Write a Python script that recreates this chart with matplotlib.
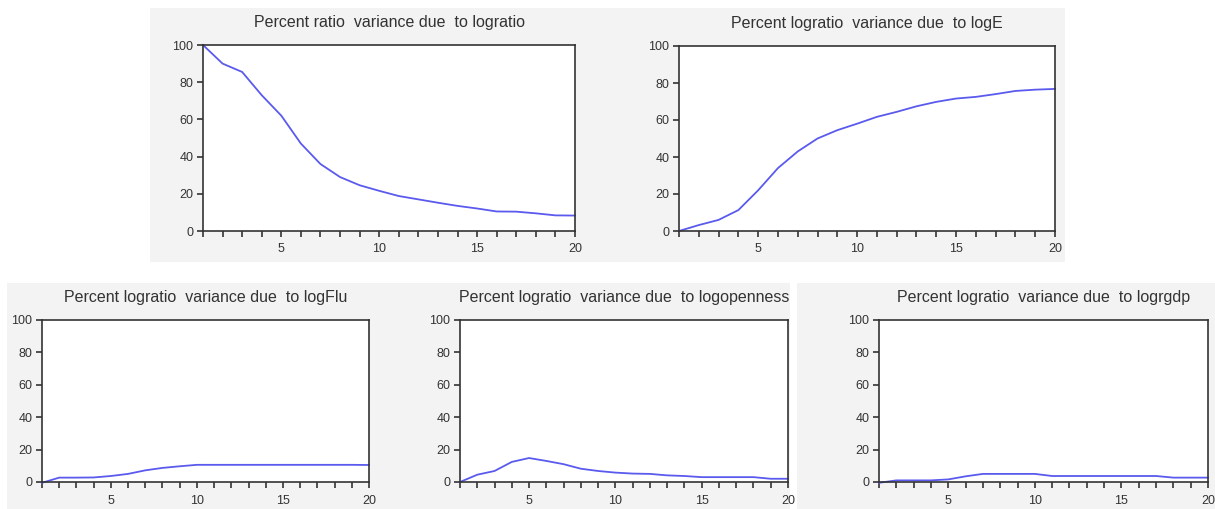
import numpy as np
import matplotlib
matplotlib.use("Agg")
import matplotlib.pyplot as plt
from matplotlib.patches import Rectangle

plt.rcParams["font.family"] = ["Liberation Sans", "DejaVu Sans"]

periods = list(range(1, 21))

# variance decomposition of logratio (percent)
due_logratio = [100, 90, 85.5, 73, 62, 47, 36, 29, 24.6, 21.6,
                18.8, 17, 15.2, 13.5, 12.1, 10.5, 10.4, 9.5, 8.4, 8.3]
due_logE = [0, 3.2, 6, 11.3, 22, 34, 43, 50, 54.5, 58,
            61.7, 64.4, 67.4, 69.8, 71.6, 72.5, 74, 75.7, 76.4, 76.8]
due_logFlu = [-0.5, 2.7, 2.7, 2.8, 3.7, 5, 7.2, 8.7, 9.7, 10.6,
              10.6, 10.6, 10.6, 10.6, 10.6, 10.6, 10.6, 10.6, 10.6, 10.5]
due_logopenness = [0, 4.5, 6.8, 12.4, 14.8, 13, 11, 8.2, 6.8, 5.8,
                   5.2, 5, 4.1, 3.7, 3, 3, 3, 3, 2, 2]
due_logrgdp = [-0.5, 1, 1, 1, 1.6, 3.5, 5, 5, 5, 5,
               3.7, 3.7, 3.7, 3.7, 3.7, 3.7, 3.7, 2.7, 2.7, 2.7]

titles = ["Percent ratio  variance due  to logratio",
          "Percent logratio  variance due  to logE",
          "Percent logratio  variance due  to logFlu",
          "Percent logratio  variance due  to logopenness",
          "Percent logratio  variance due  to logrgdp"]
series = [due_logratio, due_logE, due_logFlu, due_logopenness, due_logrgdp]

W, H = 1215, 509
# axes boxes in pixels: left, right, top, bottom
boxes = [(203, 575, 45, 231), (679, 1055, 46, 231),
         (42, 369, 320, 482), (460, 788, 320, 482), (879, 1208, 320, 482)]

fig = plt.figure(figsize=(W / 100, H / 100), dpi=100)

# light grey panels behind the graphs
for (x0, x1, y0, y1) in [(150, 1065, 8, 262), (7, 790, 283, 509), (797, 1215, 283, 509)]:
    fig.patches.append(Rectangle((x0 / W, 1 - y1 / H), (x1 - x0) / W, (y1 - y0) / H,
                                 transform=fig.transFigure, facecolor="#f3f3f3",
                                 edgecolor="none", zorder=-5))

for (l, r, t, b), vals, title in zip(boxes, series, titles):
    ax = fig.add_axes([l / W, 1 - b / H, (r - l) / W, (b - t) / H])
    ax.plot(periods, vals, color="#5a5aee", lw=1.3, clip_on=False)
    ax.set_xlim(1, 20)
    ax.set_ylim(0, 100)
    ax.set_xticks(periods)
    ax.set_xticklabels([str(p) if p % 5 == 0 else "" for p in periods])
    ax.set_yticks([0, 20, 40, 60, 80, 100])
    ax.tick_params(direction="out", length=4, width=1.2, labelsize=9,
                   colors="#333333", pad=3)
    ax.tick_params(axis="x", pad=5)
    for sp in ax.spines.values():
        sp.set_linewidth(1.2)
        sp.set_color("#333333")
    ax.set_title(title, fontsize=11.5, color="#333333", pad=13)

fig.savefig("out.png", dpi=100)
